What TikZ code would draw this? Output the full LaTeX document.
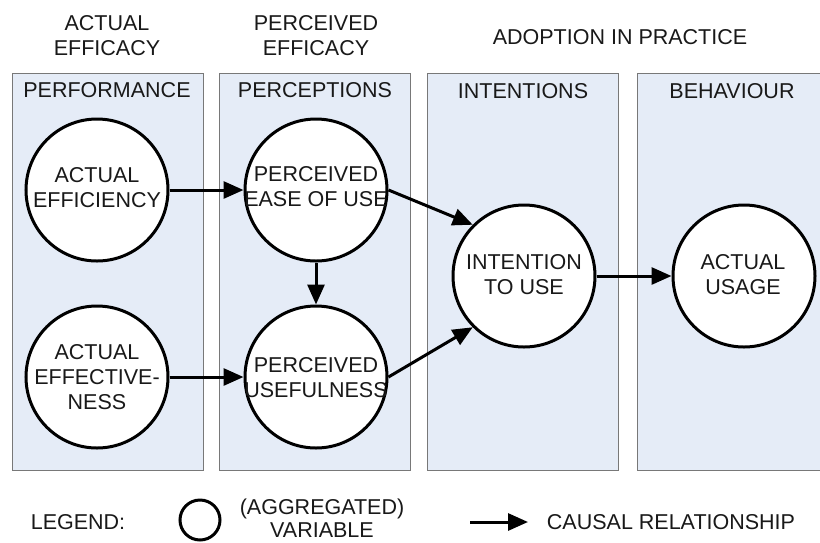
\documentclass[tikz,border=0pt]{standalone}
\usepackage{fontspec}
\setmainfont{Liberation Sans}
\usetikzlibrary{arrows.meta}
\definecolor{panelfill}{RGB}{229,236,247}
\definecolor{panelline}{RGB}{120,120,120}
\begin{document}
\begin{tikzpicture}[x=1pt,y=-1pt,
  panel/.style={draw=panelline, fill=panelfill, line width=1pt, inner sep=0pt},
  var/.style={circle, draw, fill=white, line width=3pt, minimum size=142pt, inner sep=0pt},
  lbl/.style={font=\fontsize{21.5}{25}\selectfont, align=center, inner sep=0pt, text=black!90},
  cause/.style={line width=3pt, -{Triangle[length=20pt,width=17pt]}}
]
\useasboundingbox (0,0) rectangle (820,542);
\fill[white] (0,0) rectangle (820,542);
% panels
\node[panel, minimum width=191pt, minimum height=397pt] (p1) at (107.5,271.5) {};
\node[panel, minimum width=191pt, minimum height=397pt] (p2) at (314.5,271.5) {};
\node[panel, minimum width=191pt, minimum height=397pt] (p3) at (522.5,271.5) {};
\node[panel, minimum width=200pt, minimum height=397pt] (p4) at (737,271.5) {};
% headers
\node[lbl] (h1) at (107,36) {ACTUAL\\EFFICACY};
\node[lbl] (h2) at (316,36) {PERCEIVED\\EFFICACY};
\node[lbl] (h3) at (620,37) {ADOPTION IN PRACTICE};
\node[lbl] (t1) at (107,90) {PERFORMANCE};
\node[lbl] (t2) at (315,90) {PERCEPTIONS};
\node[lbl] (t3) at (523,91) {INTENTIONS};
\node[lbl] (t4) at (732,91) {BEHAVIOUR};
% variables
\node[var] (ae) at (97,190) {};
\node[var] (peou) at (316,190) {};
\node[var] (aef) at (97,377) {};
\node[var] (pu) at (316,377) {};
\node[var] (itu) at (524,276) {};
\node[var] (au) at (744,276) {};
\node[lbl] (aet) at (97,188) {ACTUAL\\EFFICIENCY};
\node[lbl] (peout) at (316,187) {PERCEIVED\\EASE OF USE};
\node[lbl] (aeft) at (97,377) {ACTUAL\\EFFECTIVE-\\NESS};
\node[lbl] (put) at (316,377.5) {PERCEIVED\\USEFULNESS};
\node[lbl] (itut) at (524,275) {INTENTION\\TO USE};
\node[lbl] (aut) at (743,275) {ACTUAL\\USAGE};
% connectors
\draw[cause] (ae.east) -- (peou.west);
\draw[cause] (aef.east) -- (pu.west);
\draw[cause] (peou.south) -- (pu.north);
\draw[cause] (peou.east) -- (itu.135);
\draw[cause] (pu.east) -- (itu.225);
\draw[cause] (itu.east) -- (au.west);
% legend
\node[lbl] (lg) at (78,522) {LEGEND:};
\node[circle, draw, line width=3pt, minimum size=40pt, inner sep=0pt] (lgc) at (200,520) {};
\node[lbl, font=\fontsize{21.5}{23}\selectfont] (lgt) at (322,518) {(AGGREGATED)\\VARIABLE};
\coordinate (la) at (470,522);
\coordinate (lb) at (528,522);
\draw[cause] (la) -- (lb);
\node[lbl] (lct) at (671,522) {CAUSAL RELATIONSHIP};
\end{tikzpicture}
\end{document}
